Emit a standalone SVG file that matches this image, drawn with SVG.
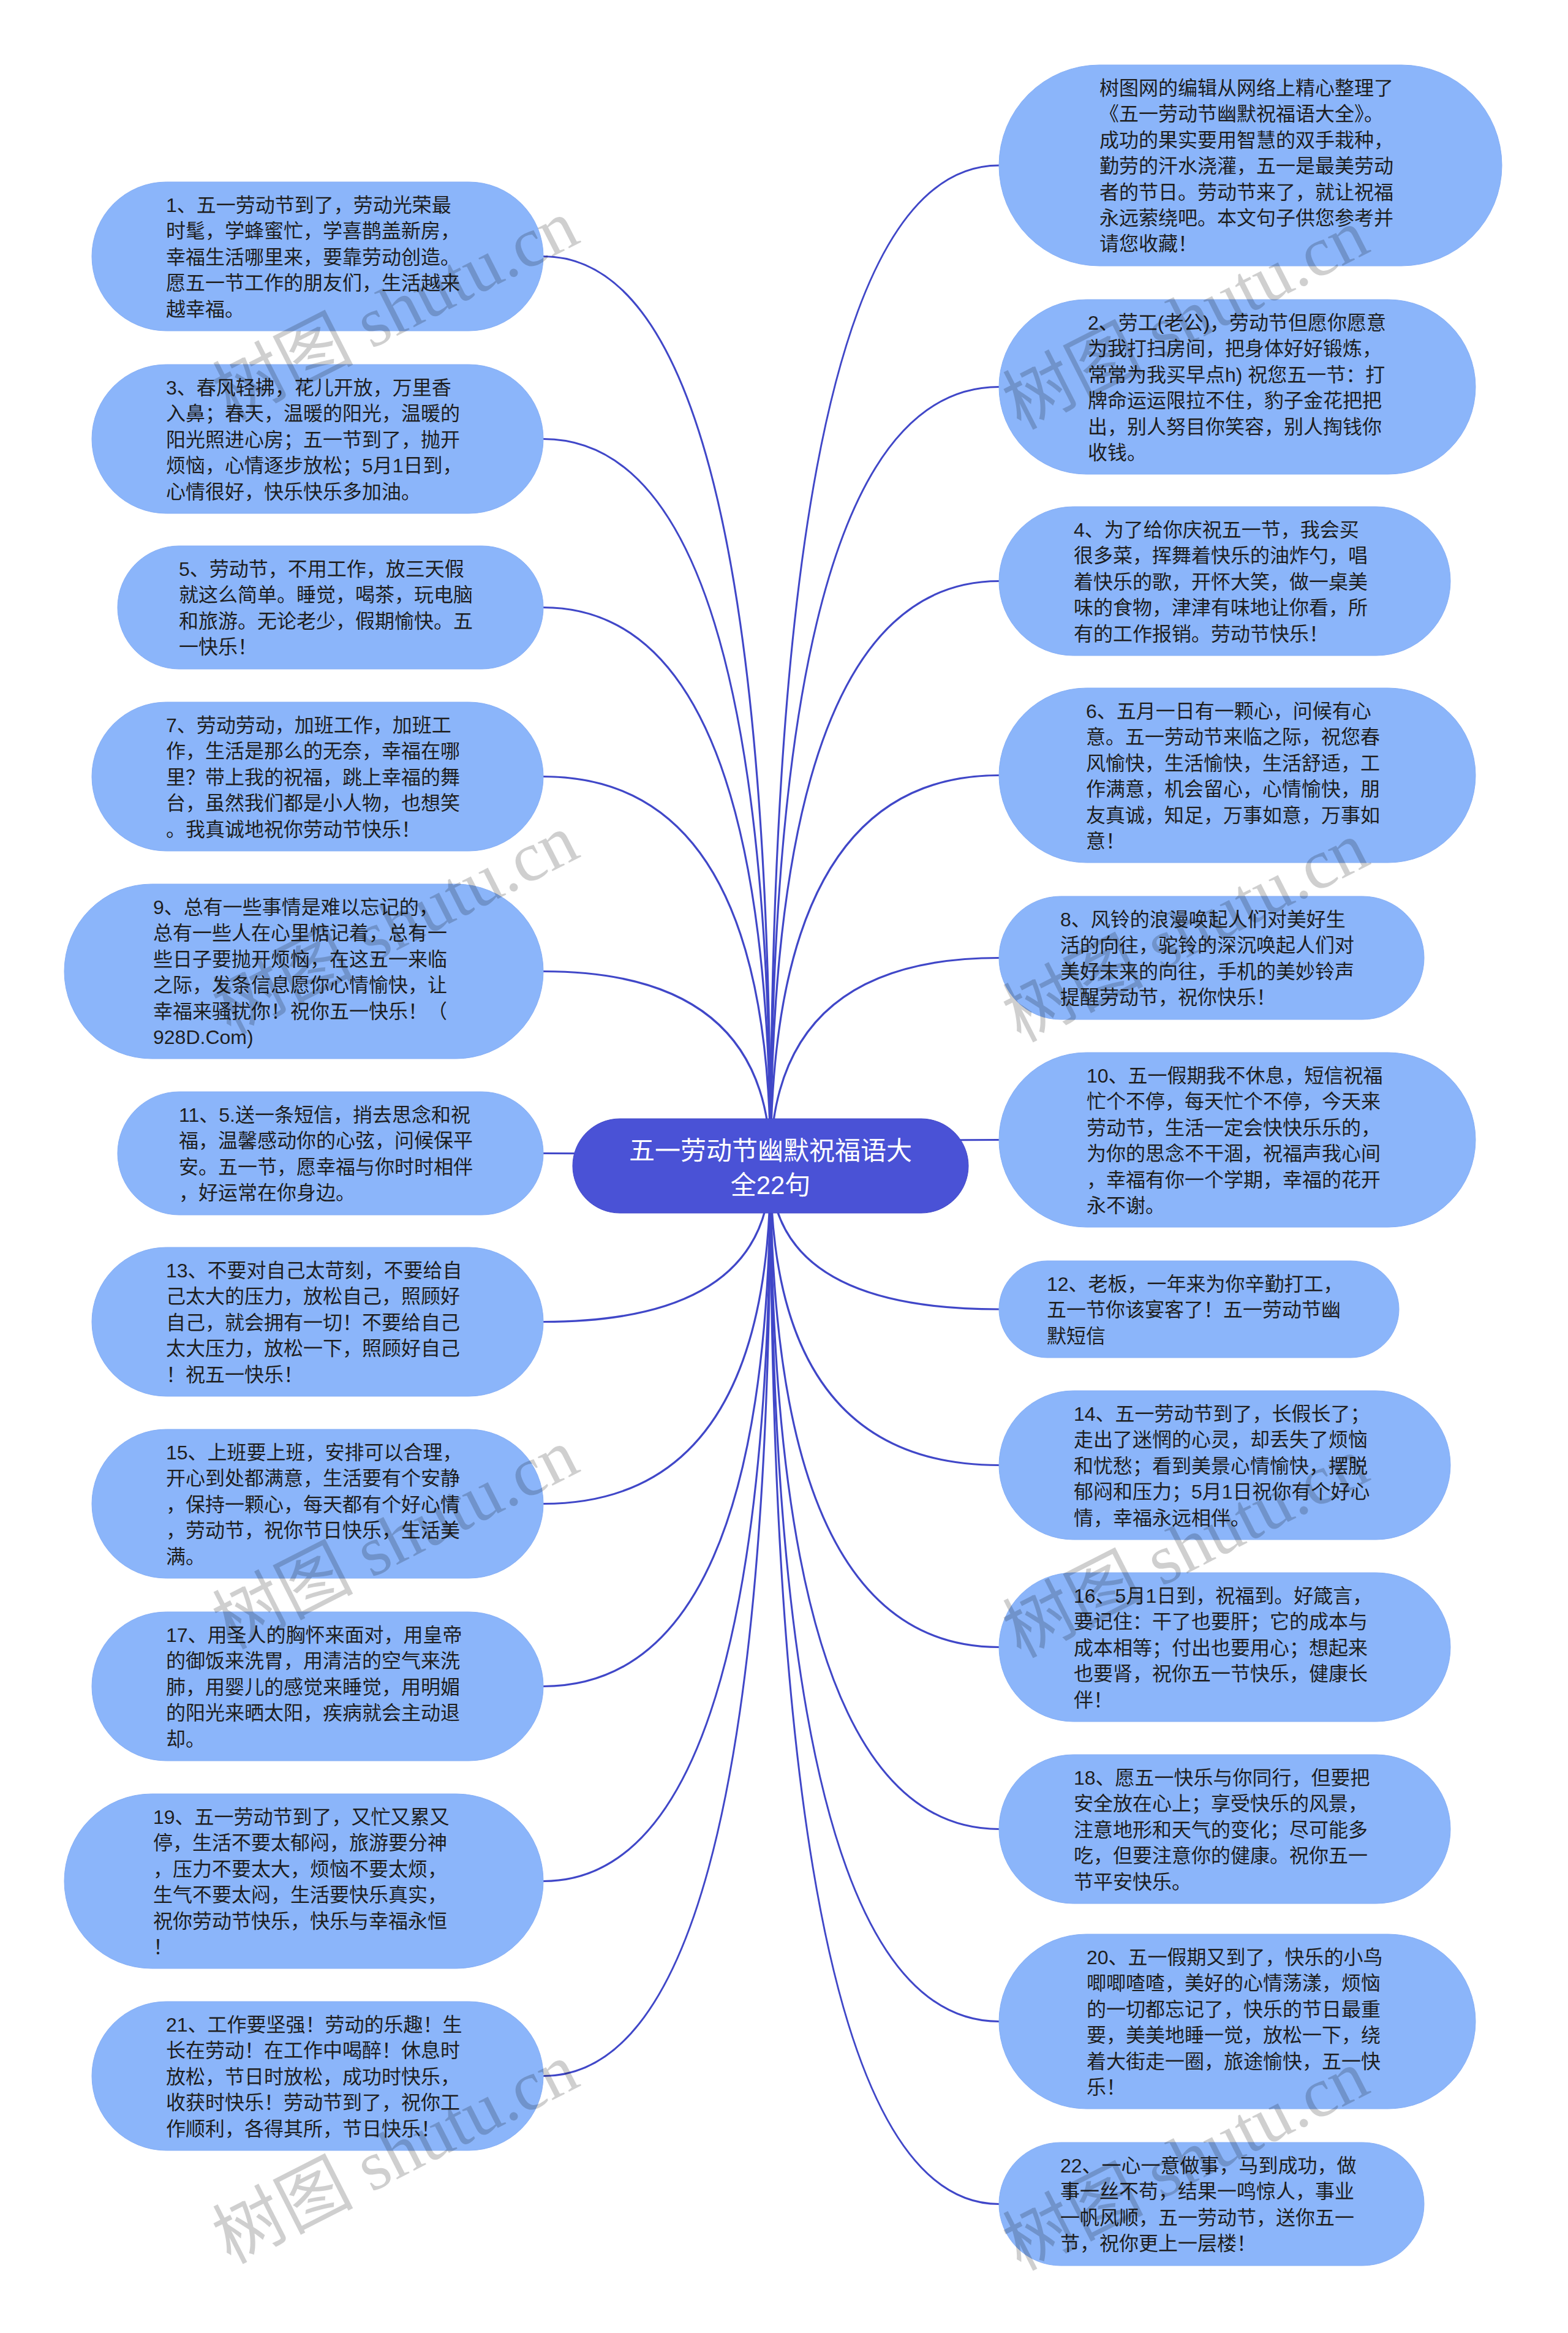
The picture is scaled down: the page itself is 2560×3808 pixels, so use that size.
<svg xmlns="http://www.w3.org/2000/svg" width="2560" height="3808" viewBox="0 0 2560 3808">
<style>
.bg{fill:#ffffff}
.node rect{fill:#8bb5fa;stroke:#85aef5;stroke-width:1}
.node text{font-family:"Liberation Sans","Noto Sans CJK SC",sans-serif;font-size:32px;fill:#1e1e1e}
.root rect{fill:#4a52d6;stroke:#4349c8;stroke-width:1}
.root text{font-family:"Liberation Sans","Noto Sans CJK SC",sans-serif;font-size:42px;fill:#ffffff;text-anchor:middle}
.conn path{fill:none;stroke:#4047c8;stroke-width:3.2}
.wm text{font-family:"Liberation Serif","Noto Sans CJK SC",serif;font-size:115px;fill:#000000;fill-opacity:0.19;text-anchor:middle}
</style>
<rect class="bg" x="0" y="0" width="2560" height="3808"/>
<g id="connectors" class="conn">
<path d="M1258 1903 Q1258 418.5 887 418.5"/>
<path d="M1258 1903 Q1258 716.5 887 716.5"/>
<path d="M1258 1903 Q1258 991.5 887 991.5"/>
<path d="M1258 1903 Q1258 1267.5 887 1267.5"/>
<path d="M1258 1903 Q1258 1585.5 887 1585.5"/>
<path d="M1258 1903 Q1258 1882.5 887 1882.5"/>
<path d="M1258 1903 Q1258 2157.5 887 2157.5"/>
<path d="M1258 1903 Q1258 2454.5 887 2454.5"/>
<path d="M1258 1903 Q1258 2752.5 887 2752.5"/>
<path d="M1258 1903 Q1258 3070.5 887 3070.5"/>
<path d="M1258 1903 Q1258 3388.5 887 3388.5"/>
<path d="M1258 1903 Q1258 270 1631 270"/>
<path d="M1258 1903 Q1258 631.5 1631 631.5"/>
<path d="M1258 1903 Q1258 948.5 1631 948.5"/>
<path d="M1258 1903 Q1258 1265.5 1631 1265.5"/>
<path d="M1258 1903 Q1258 1563.5 1631 1563.5"/>
<path d="M1258 1903 Q1258 1860.5 1631 1860.5"/>
<path d="M1258 1903 Q1258 2137 1631 2137"/>
<path d="M1258 1903 Q1258 2391.5 1631 2391.5"/>
<path d="M1258 1903 Q1258 2688.5 1631 2688.5"/>
<path d="M1258 1903 Q1258 2985.5 1631 2985.5"/>
<path d="M1258 1903 Q1258 3299.5 1631 3299.5"/>
<path d="M1258 1903 Q1258 3597.5 1631 3597.5"/>
</g>
<g id="root" class="root">
<rect x="935" y="1826" width="646" height="154" rx="77"/>
<text x="1258" y="1893">五一劳动节幽默祝福语大<tspan x="1258" dy="56">全22句</tspan></text>
</g>
<g id="node-intro" class="node">
<rect x="1631" y="106" width="821" height="328" rx="164"/>
<text x="1795" y="155"><tspan x="1795">树图网的编辑从网络上精心整理了</tspan><tspan x="1795" dy="42.4">《五一劳动节幽默祝福语大全》。</tspan><tspan x="1795" dy="42.4">成功的果实要用智慧的双手栽种，</tspan><tspan x="1795" dy="42.4">勤劳的汗水浇灌，五一是最美劳动</tspan><tspan x="1795" dy="42.4">者的节日。劳动节来了，就让祝福</tspan><tspan x="1795" dy="42.4">永远萦绕吧。本文句子供您参考并</tspan><tspan x="1795" dy="42.4">请您收藏！</tspan></text>
</g>
<g id="node-1" class="node">
<rect x="150" y="297" width="737" height="243" rx="121.5"/>
<text x="271" y="346"><tspan x="271">1、五一劳动节到了，劳动光荣最</tspan><tspan x="271" dy="42.4">时髦，学蜂蜜忙，学喜鹊盖新房，</tspan><tspan x="271" dy="42.4">幸福生活哪里来，要靠劳动创造。</tspan><tspan x="271" dy="42.4">愿五一节工作的朋友们，生活越来</tspan><tspan x="271" dy="42.4">越幸福。</tspan></text>
</g>
<g id="node-2" class="node">
<rect x="1631" y="489" width="778" height="285" rx="142.5"/>
<text x="1776" y="538"><tspan x="1776">2、劳工(老公)，劳动节但愿你愿意</tspan><tspan x="1776" dy="42.4">为我打扫房间，把身体好好锻炼，</tspan><tspan x="1776" dy="42.4">常常为我买早点h) 祝您五一节：打</tspan><tspan x="1776" dy="42.4">牌命运运限拉不住，豹子金花把把</tspan><tspan x="1776" dy="42.4">出，别人努目你笑容，别人掏钱你</tspan><tspan x="1776" dy="42.4">收钱。</tspan></text>
</g>
<g id="node-3" class="node">
<rect x="150" y="595" width="737" height="243" rx="121.5"/>
<text x="271" y="644"><tspan x="271">3、春风轻拂，花儿开放，万里香</tspan><tspan x="271" dy="42.4">入鼻；春天，温暖的阳光，温暖的</tspan><tspan x="271" dy="42.4">阳光照进心房；五一节到了，抛开</tspan><tspan x="271" dy="42.4">烦恼，心情逐步放松；5月1日到，</tspan><tspan x="271" dy="42.4">心情很好，快乐快乐多加油。</tspan></text>
</g>
<g id="node-4" class="node">
<rect x="1631" y="827" width="737" height="243" rx="121.5"/>
<text x="1753" y="876"><tspan x="1753">4、为了给你庆祝五一节，我会买</tspan><tspan x="1753" dy="42.4">很多菜，挥舞着快乐的油炸勺，唱</tspan><tspan x="1753" dy="42.4">着快乐的歌，开怀大笑，做一桌美</tspan><tspan x="1753" dy="42.4">味的食物，津津有味地让你看，所</tspan><tspan x="1753" dy="42.4">有的工作报销。劳动节快乐！</tspan></text>
</g>
<g id="node-5" class="node">
<rect x="192" y="891" width="695" height="201" rx="100.5"/>
<text x="292" y="940"><tspan x="292">5、劳动节，不用工作，放三天假</tspan><tspan x="292" dy="42.4">就这么简单。睡觉，喝茶，玩电脑</tspan><tspan x="292" dy="42.4">和旅游。无论老少，假期愉快。五</tspan><tspan x="292" dy="42.4">一快乐！</tspan></text>
</g>
<g id="node-6" class="node">
<rect x="1631" y="1123" width="778" height="285" rx="142.5"/>
<text x="1773" y="1172"><tspan x="1773">6、五月一日有一颗心，问候有心</tspan><tspan x="1773" dy="42.4">意。五一劳动节来临之际，祝您春</tspan><tspan x="1773" dy="42.4">风愉快，生活愉快，生活舒适，工</tspan><tspan x="1773" dy="42.4">作满意，机会留心，心情愉快，朋</tspan><tspan x="1773" dy="42.4">友真诚，知足，万事如意，万事如</tspan><tspan x="1773" dy="42.4">意！</tspan></text>
</g>
<g id="node-7" class="node">
<rect x="150" y="1146" width="737" height="243" rx="121.5"/>
<text x="271" y="1195"><tspan x="271">7、劳动劳动，加班工作，加班工</tspan><tspan x="271" dy="42.4">作，生活是那么的无奈，幸福在哪</tspan><tspan x="271" dy="42.4">里？带上我的祝福，跳上幸福的舞</tspan><tspan x="271" dy="42.4">台，虽然我们都是小人物，也想笑</tspan><tspan x="271" dy="42.4">。我真诚地祝你劳动节快乐！</tspan></text>
</g>
<g id="node-8" class="node">
<rect x="1631" y="1463" width="694" height="201" rx="100.5"/>
<text x="1731" y="1512"><tspan x="1731">8、风铃的浪漫唤起人们对美好生</tspan><tspan x="1731" dy="42.4">活的向往，驼铃的深沉唤起人们对</tspan><tspan x="1731" dy="42.4">美好未来的向往，手机的美妙铃声</tspan><tspan x="1731" dy="42.4">提醒劳动节，祝你快乐！</tspan></text>
</g>
<g id="node-9" class="node">
<rect x="105" y="1443" width="782" height="285" rx="142.5"/>
<text x="250" y="1492"><tspan x="250">9、总有一些事情是难以忘记的，</tspan><tspan x="250" dy="42.4">总有一些人在心里惦记着，总有一</tspan><tspan x="250" dy="42.4">些日子要抛开烦恼，在这五一来临</tspan><tspan x="250" dy="42.4">之际，发条信息愿你心情愉快，让</tspan><tspan x="250" dy="42.4">幸福来骚扰你！祝你五一快乐！（</tspan><tspan x="250" dy="42.4">928D.Com)</tspan></text>
</g>
<g id="node-10" class="node">
<rect x="1631" y="1718" width="778" height="285" rx="142.5"/>
<text x="1774" y="1767"><tspan x="1774">10、五一假期我不休息，短信祝福</tspan><tspan x="1774" dy="42.4">忙个不停，每天忙个不停，今天来</tspan><tspan x="1774" dy="42.4">劳动节，生活一定会快快乐乐的，</tspan><tspan x="1774" dy="42.4">为你的思念不干涸，祝福声我心间</tspan><tspan x="1774" dy="42.4">，幸福有你一个学期，幸福的花开</tspan><tspan x="1774" dy="42.4">永不谢。</tspan></text>
</g>
<g id="node-11" class="node">
<rect x="192" y="1782" width="695" height="201" rx="100.5"/>
<text x="292" y="1831"><tspan x="292">11、5.送一条短信，捎去思念和祝</tspan><tspan x="292" dy="42.4">福，温馨感动你的心弦，问候保平</tspan><tspan x="292" dy="42.4">安。五一节，愿幸福与你时时相伴</tspan><tspan x="292" dy="42.4">，好运常在你身边。</tspan></text>
</g>
<g id="node-12" class="node">
<rect x="1631" y="2058" width="653" height="158" rx="79"/>
<text x="1709" y="2107"><tspan x="1709">12、老板，一年来为你辛勤打工，</tspan><tspan x="1709" dy="42.4">五一节你该宴客了！五一劳动节幽</tspan><tspan x="1709" dy="42.4">默短信</tspan></text>
</g>
<g id="node-13" class="node">
<rect x="150" y="2036" width="737" height="243" rx="121.5"/>
<text x="271" y="2085"><tspan x="271">13、不要对自己太苛刻，不要给自</tspan><tspan x="271" dy="42.4">己太大的压力，放松自己，照顾好</tspan><tspan x="271" dy="42.4">自己，就会拥有一切！不要给自己</tspan><tspan x="271" dy="42.4">太大压力，放松一下，照顾好自己</tspan><tspan x="271" dy="42.4">！祝五一快乐！</tspan></text>
</g>
<g id="node-14" class="node">
<rect x="1631" y="2270" width="737" height="243" rx="121.5"/>
<text x="1753" y="2319"><tspan x="1753">14、五一劳动节到了，长假长了；</tspan><tspan x="1753" dy="42.4">走出了迷惘的心灵，却丢失了烦恼</tspan><tspan x="1753" dy="42.4">和忧愁；看到美景心情愉快，摆脱</tspan><tspan x="1753" dy="42.4">郁闷和压力；5月1日祝你有个好心</tspan><tspan x="1753" dy="42.4">情，幸福永远相伴。</tspan></text>
</g>
<g id="node-15" class="node">
<rect x="150" y="2333" width="737" height="243" rx="121.5"/>
<text x="271" y="2382"><tspan x="271">15、上班要上班，安排可以合理，</tspan><tspan x="271" dy="42.4">开心到处都满意，生活要有个安静</tspan><tspan x="271" dy="42.4">，保持一颗心，每天都有个好心情</tspan><tspan x="271" dy="42.4">，劳动节，祝你节日快乐，生活美</tspan><tspan x="271" dy="42.4">满。</tspan></text>
</g>
<g id="node-16" class="node">
<rect x="1631" y="2567" width="737" height="243" rx="121.5"/>
<text x="1753" y="2616"><tspan x="1753">16、5月1日到，祝福到。好箴言，</tspan><tspan x="1753" dy="42.4">要记住：干了也要肝；它的成本与</tspan><tspan x="1753" dy="42.4">成本相等；付出也要用心；想起来</tspan><tspan x="1753" dy="42.4">也要肾，祝你五一节快乐，健康长</tspan><tspan x="1753" dy="42.4">伴！</tspan></text>
</g>
<g id="node-17" class="node">
<rect x="150" y="2631" width="737" height="243" rx="121.5"/>
<text x="271" y="2680"><tspan x="271">17、用圣人的胸怀来面对，用皇帝</tspan><tspan x="271" dy="42.4">的御饭来洗胃，用清洁的空气来洗</tspan><tspan x="271" dy="42.4">肺，用婴儿的感觉来睡觉，用明媚</tspan><tspan x="271" dy="42.4">的阳光来晒太阳，疾病就会主动退</tspan><tspan x="271" dy="42.4">却。</tspan></text>
</g>
<g id="node-18" class="node">
<rect x="1631" y="2864" width="737" height="243" rx="121.5"/>
<text x="1753" y="2913"><tspan x="1753">18、愿五一快乐与你同行，但要把</tspan><tspan x="1753" dy="42.4">安全放在心上；享受快乐的风景，</tspan><tspan x="1753" dy="42.4">注意地形和天气的变化；尽可能多</tspan><tspan x="1753" dy="42.4">吃，但要注意你的健康。祝你五一</tspan><tspan x="1753" dy="42.4">节平安快乐。</tspan></text>
</g>
<g id="node-19" class="node">
<rect x="105" y="2928" width="782" height="285" rx="142.5"/>
<text x="250" y="2977"><tspan x="250">19、五一劳动节到了，又忙又累又</tspan><tspan x="250" dy="42.4">停，生活不要太郁闷，旅游要分神</tspan><tspan x="250" dy="42.4">，压力不要太大，烦恼不要太烦，</tspan><tspan x="250" dy="42.4">生气不要太闷，生活要快乐真实，</tspan><tspan x="250" dy="42.4">祝你劳动节快乐，快乐与幸福永恒</tspan><tspan x="250" dy="42.4">！</tspan></text>
</g>
<g id="node-20" class="node">
<rect x="1631" y="3157" width="778" height="285" rx="142.5"/>
<text x="1774" y="3206"><tspan x="1774">20、五一假期又到了，快乐的小鸟</tspan><tspan x="1774" dy="42.4">唧唧喳喳，美好的心情荡漾，烦恼</tspan><tspan x="1774" dy="42.4">的一切都忘记了，快乐的节日最重</tspan><tspan x="1774" dy="42.4">要，美美地睡一觉，放松一下，绕</tspan><tspan x="1774" dy="42.4">着大街走一圈，旅途愉快，五一快</tspan><tspan x="1774" dy="42.4">乐！</tspan></text>
</g>
<g id="node-21" class="node">
<rect x="150" y="3267" width="737" height="243" rx="121.5"/>
<text x="271" y="3316"><tspan x="271">21、工作要坚强！劳动的乐趣！生</tspan><tspan x="271" dy="42.4">长在劳动！在工作中喝醉！休息时</tspan><tspan x="271" dy="42.4">放松，节日时放松，成功时快乐，</tspan><tspan x="271" dy="42.4">收获时快乐！劳动节到了，祝你工</tspan><tspan x="271" dy="42.4">作顺利，各得其所，节日快乐！</tspan></text>
</g>
<g id="node-22" class="node">
<rect x="1631" y="3497" width="694" height="201" rx="100.5"/>
<text x="1731" y="3546"><tspan x="1731">22、一心一意做事，马到成功，做</tspan><tspan x="1731" dy="42.4">事一丝不苟，结果一鸣惊人，事业</tspan><tspan x="1731" dy="42.4">一帆风顺，五一劳动节，送你五一</tspan><tspan x="1731" dy="42.4">节，祝你更上一层楼！</tspan></text>
</g>
<g id="watermarks" class="wm">
<text x="645" y="545" transform="rotate(-27 645 505)">树图 shutu.cn</text>
<text x="645" y="1548" transform="rotate(-27 645 1508)">树图 shutu.cn</text>
<text x="645" y="2551" transform="rotate(-27 645 2511)">树图 shutu.cn</text>
<text x="645" y="3554" transform="rotate(-27 645 3514)">树图 shutu.cn</text>
<text x="1935" y="560" transform="rotate(-27 1935 520)">树图 shutu.cn</text>
<text x="1935" y="1560" transform="rotate(-27 1935 1520)">树图 shutu.cn</text>
<text x="1935" y="2565" transform="rotate(-27 1935 2525)">树图 shutu.cn</text>
<text x="1935" y="3565" transform="rotate(-27 1935 3525)">树图 shutu.cn</text>
</g>
</svg>
